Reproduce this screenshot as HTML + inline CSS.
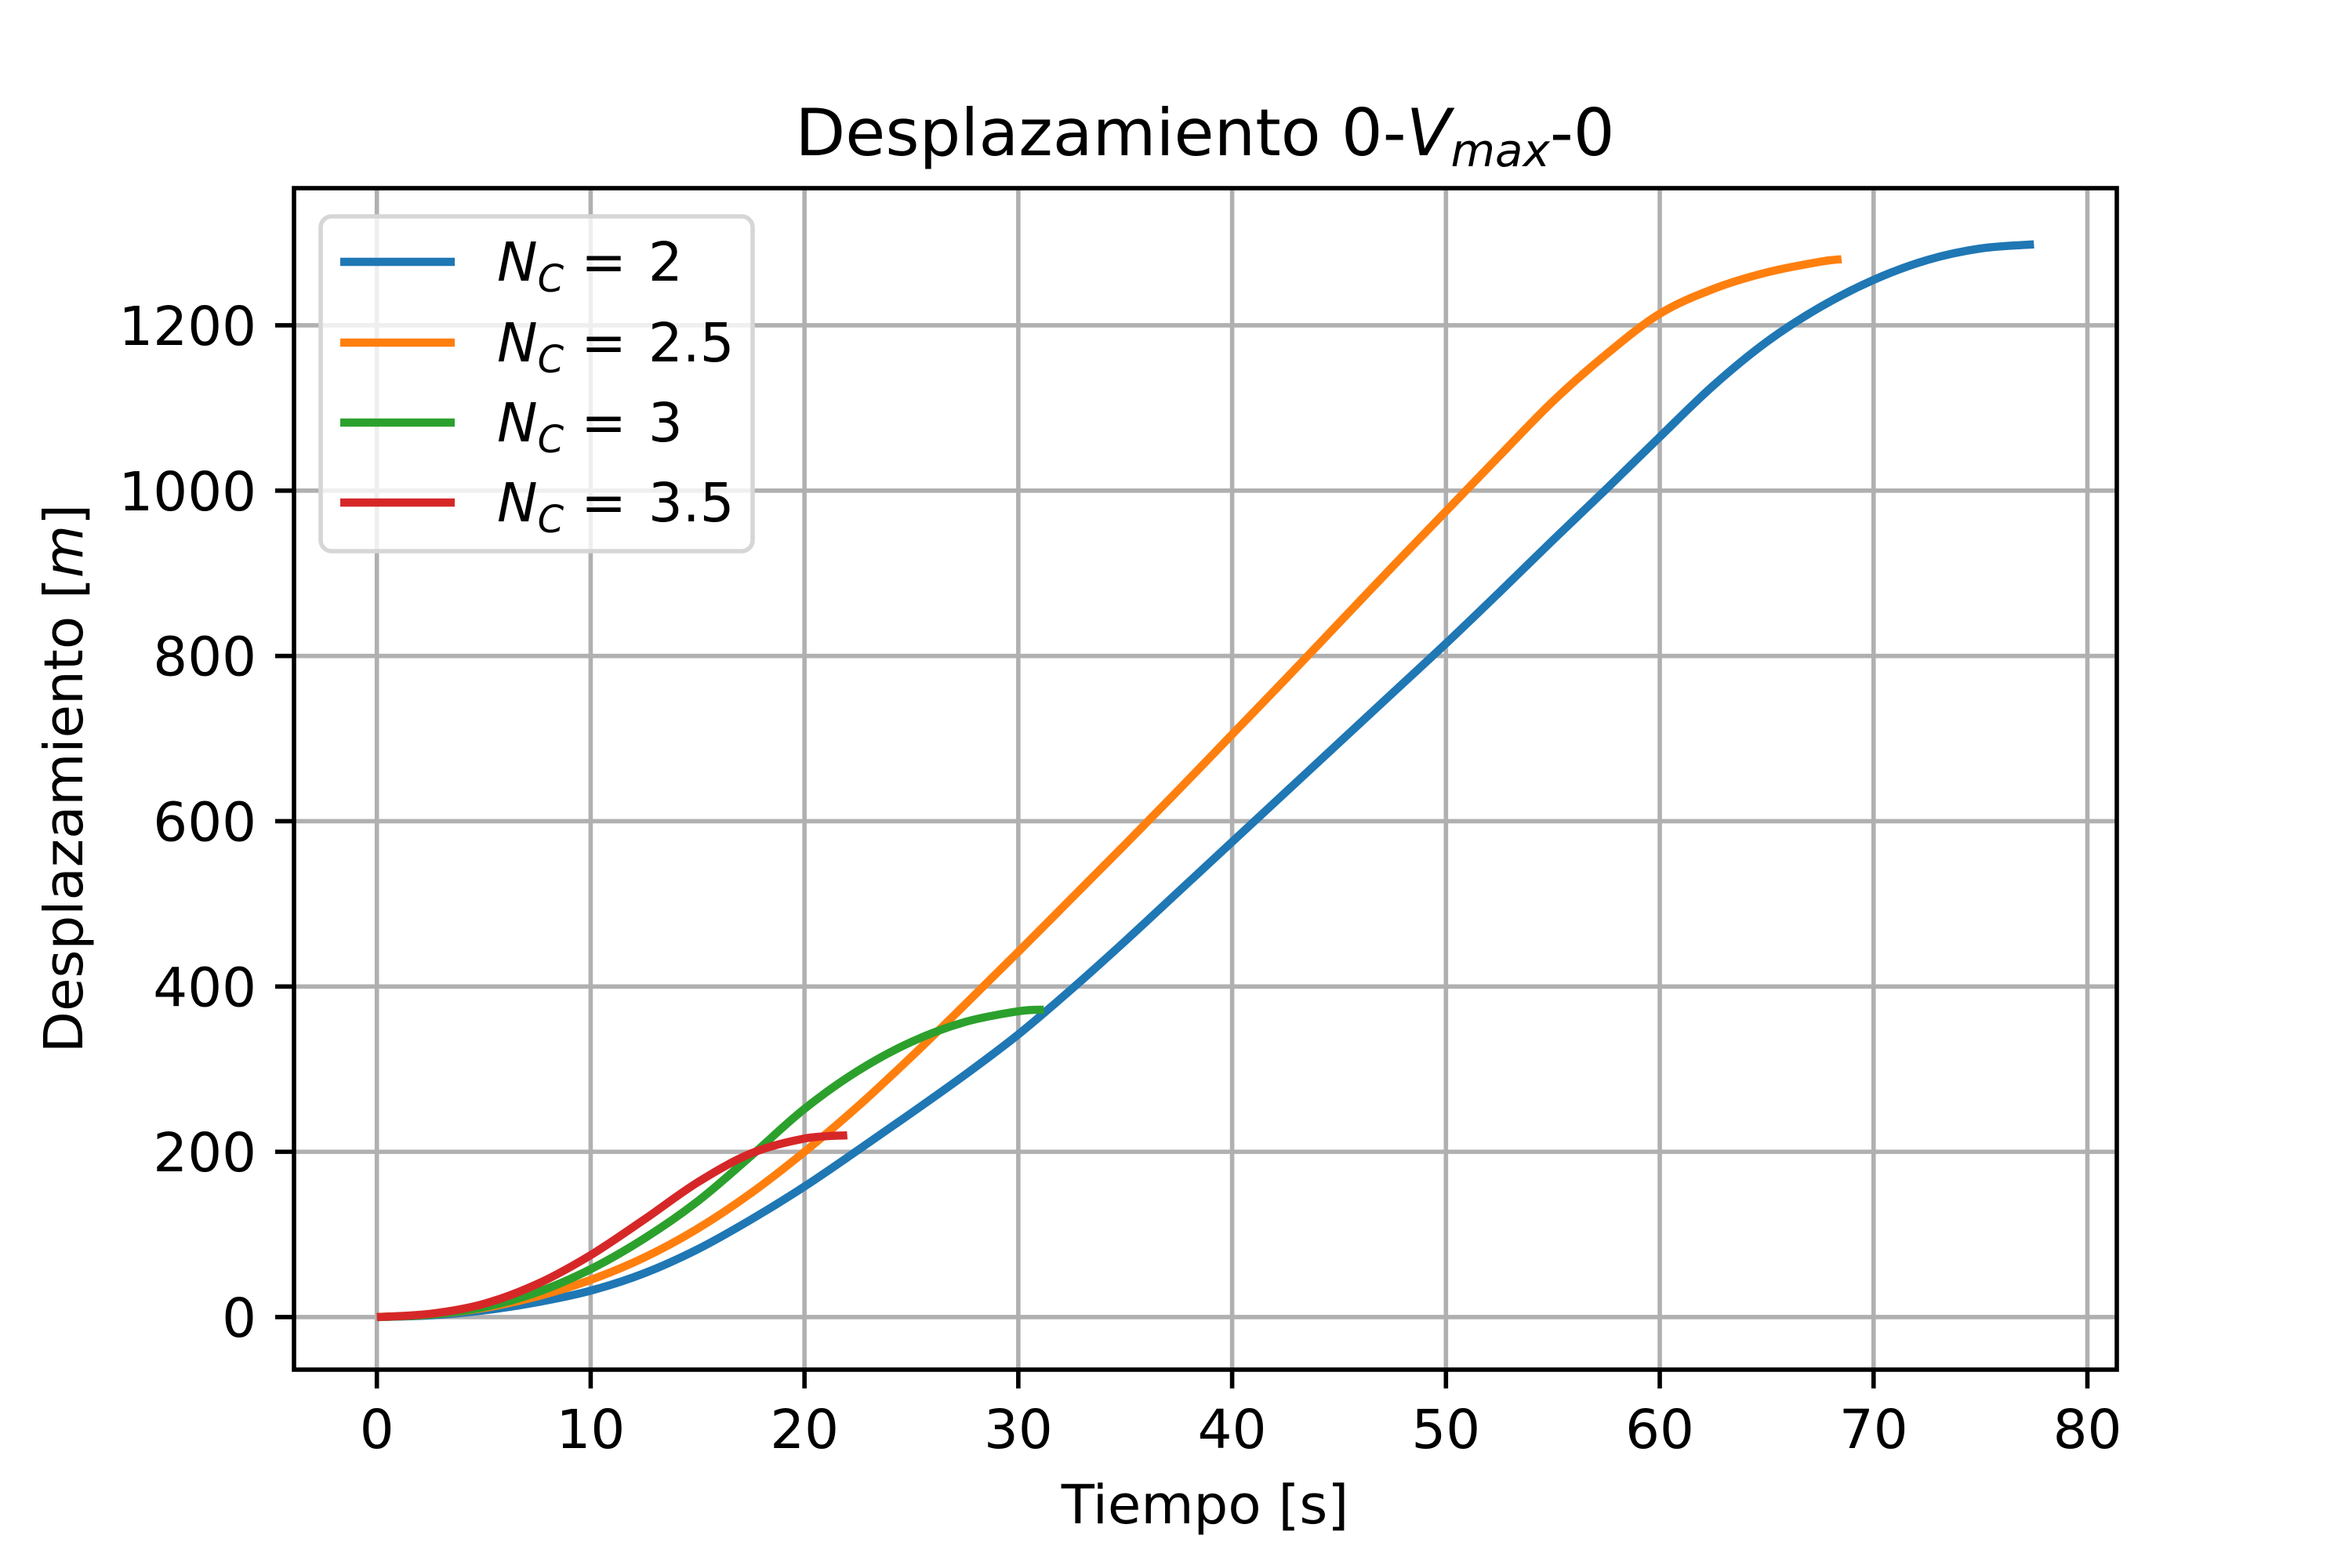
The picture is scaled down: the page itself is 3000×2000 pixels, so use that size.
<!DOCTYPE html>
<html><head><meta charset="utf-8"><style>
body{margin:0;background:#fff}
svg{display:block}
text{font-family:"DejaVu Sans","Liberation Sans",sans-serif;fill:#000}
</style></head><body>
<svg id="chart" width="3000" height="2000" viewBox="0 0 3000 2000">
<rect width="3000" height="2000" fill="#fff"/>
<g id="grid"></g>
<g id="series"></g>
<rect x="375" y="240" width="2325" height="1507" fill="none" stroke="#000" stroke-width="5.6"/>
<g id="ticks"></g>
<text x="1537" y="198" font-size="83" text-anchor="middle">Desplazamiento 0-<tspan font-style="italic">V</tspan><tspan font-style="italic" font-size="58" dy="14">max</tspan><tspan dy="-14">-0</tspan></text>
<text x="1537" y="1943" font-size="69" text-anchor="middle">Tiempo [s]</text>
<text transform="translate(105,993) rotate(-90)" font-size="69" text-anchor="middle">Desplazamiento [<tspan font-style="italic">m</tspan>]</text>
<g id="legend"></g>
</svg>
<script>
const xTicks=[0,10,20,30,40,50,60,70,80];
const yTicks=[0,200,400,600,800,1000,1200];
const labels=["2","2.5","3","3.5"];
const colors=["#1f77b4","#ff7f0e","#2ca02c","#d62728"];
const tBlue=[0,2.5,5,7.5,10,12.5,15,17.5,20,22.5,25,27.5,30,32.5,35,37.5,40,42.5,45,47.5,50,52.5,55,57.5,60,62.5,65,67.5,70,72.5,75,77.5];
const yBlue=[0,2,8,18,32,53,82,118,158,202,247,293,342,397,455,515,575,635,695,755,815,877,940,1002,1065,1127,1180,1222,1255,1279,1293,1298];
const tOrange=[0,2.5,5,7.5,10,12.5,15,17.5,20,22.5,25,27.5,30,32.5,35,37.5,40,42.5,45,47.5,50,52.5,55,57.5,60,62.5,65,67.5,68.5];
const yOrange=[0,3,11,25,45,72,107,150,200,255,315,378,442,507,572,638,705,772,840,908,975,1042,1108,1165,1214,1244,1264,1277,1280];
const tGreen=[0,2.5,5,7.5,10,12.5,15,17.5,20,22.5,25,27.5,30,31.2];
const yGreen=[0,3,12,30,58,95,140,195,252,298,333,357,370,372];
const tRed=[0,2.5,5,7.5,10,12.5,15,17.5,20,22];
const yRed=[0,4,16,40,75,118,163,198,216,220];

const NS="http://www.w3.org/2000/svg";
const L=375,R=2700,T=240,B=1747;
const xmin=-3.875,xmax=81.375,ymin=-63.6,ymax=1366;
const X=v=>L+(v-xmin)/(xmax-xmin)*(R-L);
const Y=v=>B-(v-ymin)/(ymax-ymin)*(B-T);
function mk(tag,attrs,parent){const e=document.createElementNS(NS,tag);for(const k in attrs)e.setAttribute(k,attrs[k]);parent.appendChild(e);return e;}
const grid=document.getElementById('grid'),ticks=document.getElementById('ticks');
xTicks.forEach(v=>{
  const g=mk('line',{x1:X(v),x2:X(v),y1:T,y2:B,stroke:'#b0b0b0','stroke-width':5.6},grid);
  
  
  const t=mk('line',{x1:X(v),x2:X(v),y1:B,y2:B+24,stroke:'#000','stroke-width':5.6},ticks);
  
  
  const s=mk('text',{x:X(v),y:B+100,'font-size':69,'text-anchor':'middle'},ticks);
  s.textContent=v;
  
  
});
yTicks.forEach(v=>{
  const g=mk('line',{x1:L,x2:R,y1:Y(v),y2:Y(v),stroke:'#b0b0b0','stroke-width':5.6},grid);
  
  
  const t=mk('line',{x1:L-24,x2:L,y1:Y(v),y2:Y(v),stroke:'#000','stroke-width':5.6},ticks);
  
  
  const s=mk('text',{x:L-48,y:Y(v)+25,'font-size':69,'text-anchor':'end'},ticks);
  s.textContent=v;
  
  
});
function pathFor(ts,ys){
  const p=ts.map((t,i)=>[X(t),Y(ys[i])]);
  let d='M'+p[0][0]+','+p[0][1];
  for(let i=0;i<p.length-1;i++){
    const p0=p[Math.max(0,i-1)],p1=p[i],p2=p[i+1],p3=p[Math.min(p.length-1,i+2)];
    const c1=[p1[0]+(p2[0]-p0[0])/6,p1[1]+(p2[1]-p0[1])/6];
    const c2=[p2[0]-(p3[0]-p1[0])/6,p2[1]-(p3[1]-p1[1])/6];
    d+=` C${c1[0]},${c1[1]} ${c2[0]},${c2[1]} ${p2[0]},${p2[1]}`;
  }
  return d;
}
const series=document.getElementById('series');
const allT=[tBlue,tOrange,tGreen,tRed],allY=[yBlue,yOrange,yGreen,yRed];
const names=['line-nc-2','line-nc-2-5','line-nc-3','line-nc-3-5'];
for(let i=0;i<4;i++){
  const e=mk('path',{d:pathFor(allT[i],allY[i]),fill:'none',stroke:colors[i],'stroke-width':10.4},series);
  
  
}
const lg=document.getElementById('legend');
const box=mk('rect',{x:409,y:276,width:551,height:427,rx:14,fill:'#fff','fill-opacity':0.8,stroke:'#d6d6d6','stroke-width':5.6},lg);


const ly=[334,437,539,641];
for(let i=0;i<4;i++){
  const l=mk('line',{x1:434,x2:580,y1:ly[i],y2:ly[i],stroke:colors[i],'stroke-width':10.4},lg);
  
  
  const t=mk('text',{x:634,y:ly[i]+24,'font-size':69},lg);
  t.innerHTML='<tspan font-style="italic">N</tspan><tspan font-style="italic" font-size="48" dy="14">C</tspan><tspan dy="-14" xml:space="preserve"> = </tspan><tspan dx="6">'+labels[i]+'</tspan>';
  
  
}
</script>
</body></html>
